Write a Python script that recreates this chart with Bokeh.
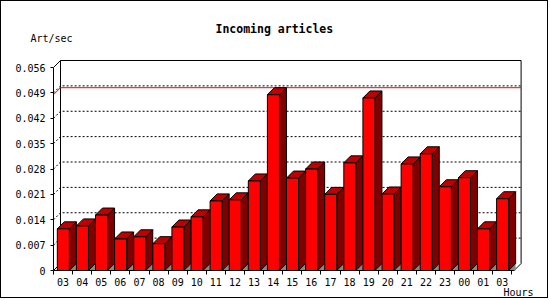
import numpy as np
from bokeh.plotting import figure
from bokeh.models import Range1d, FixedTicker, Title
from bokeh.embed import file_html
from bokeh.resources import INLINE

# ---- data ----
HOURS = ["03", "04", "05", "06", "07", "08", "09", "10", "11", "12", "13", "14",
         "15", "16", "17", "18", "19", "20", "21", "22", "23", "00", "01", "03"]
ART_PER_SEC = [0.0115, 0.0123, 0.0153, 0.0087, 0.0093, 0.0074, 0.0120, 0.0148,
               0.0192, 0.0195, 0.0247, 0.0485, 0.0255, 0.0280, 0.0210, 0.0297,
               0.0476, 0.0211, 0.0294, 0.0322, 0.0231, 0.0256, 0.0115, 0.0198]
Y_TICKS = [0, 0.007, 0.014, 0.021, 0.028, 0.035, 0.042, 0.049, 0.056]
Y_TICK_LABELS = ["0", "0.007", "0.014", "0.021", "0.028", "0.035", "0.042", "0.049", "0.056"]
TITLE = "Incoming articles"
Y_LABEL = "Art/sec"
X_LABEL = "Hours"

# ---- layout constants ----
W, H = 548, 298
BL, BR, BT, BB = 52, 26, 58, 29
SLOT_PX = 19.1
PX_PER_UNIT = 203 / 0.056
DEPTH_PX = 7
frame_w = W - BL - BR
frame_h = H - BT - BB
x_end = frame_w / SLOT_PX
y_end = frame_h / PX_PER_UNIT
dx = DEPTH_PX / SLOT_PX
dy = DEPTH_PX / PX_PER_UNIT
n = len(HOURS)
front_right = n + 2.2 / SLOT_PX
ymax_tick = Y_TICKS[-1]
FONT = "DejaVu Sans Mono"

p = figure(width=W, height=H, output_backend="svg", toolbar_location=None,
           x_range=Range1d(0, x_end), y_range=Range1d(0, y_end),
           min_border_left=BL, min_border_right=BR, min_border_top=BT,
           min_border_bottom=BB)
p.styles = {"border": "1px solid black"}
p.outline_line_color = None
p.xgrid.visible = False
p.ygrid.visible = False
p.background_fill_color = "white"
p.border_fill_color = "white"

# titles / labels
p.title.text = TITLE
p.title.align = "left"
p.title.offset = 162
p.title.vertical_align = "bottom"
p.title.text_font = FONT
p.title.text_font_style = "bold"
p.title.text_font_size = "11.5px"
p.title.text_color = "black"
p.title.standoff = -34

p.add_layout(Title(text=Y_LABEL, align="left", offset=-23, standoff=28, vertical_align="top",
                   text_font=FONT, text_font_size="10px", text_font_style="normal",
                   text_color="black"), "above")
p.add_layout(Title(text=X_LABEL, align="right", offset=-10, standoff=-8, vertical_align="bottom",
                   text_font=FONT, text_font_size="10px", text_font_style="normal",
                   text_color="black"), "below")

# axes
xa = p.xaxis[0]
centers = [i + 0.5 for i in range(n)]
xa.ticker = FixedTicker(ticks=centers, minor_ticks=list(range(n + 1)))
xa.major_label_overrides = {c: h for c, h in zip(centers, HOURS)}
xa.bounds = (0, front_right)
xa.major_tick_line_color = None
xa.major_tick_out = 0
xa.major_tick_in = 0
xa.minor_tick_out = 4
xa.minor_tick_in = 0
xa.minor_tick_line_color = "black"
xa.major_label_standoff = 3
xa.major_label_text_font = FONT
xa.major_label_text_font_size = "10px"
xa.major_label_text_color = "black"
xa.axis_line_color = "black"

ya = p.yaxis[0]
ya.ticker = FixedTicker(ticks=Y_TICKS, minor_ticks=[])
ya.major_label_overrides = {t: l for t, l in zip(Y_TICKS, Y_TICK_LABELS)}
ya.bounds = (0, ymax_tick)
ya.major_tick_out = 3
ya.major_tick_in = 0
ya.minor_tick_line_color = None
ya.major_label_standoff = 5
ya.major_label_text_font = FONT
ya.major_label_text_font_size = "10px"
ya.major_label_text_color = "black"
ya.axis_line_color = "black"

# grid lines on back wall (with diagonal from front)
for t in Y_TICKS[1:-1]:
    p.line([0, dx, front_right + dx], [t, t + dy, t + dy], line_color="black",
           line_width=1, line_dash="2 2")

# back wall frame
p.line([0, dx, front_right + dx, front_right + dx, front_right],
       [ymax_tick, ymax_tick + dy, ymax_tick + dy, dy, 0], line_color="black", line_width=1)
p.line([0, dx, dx], [0, dy, ymax_tick + dy], line_color="black", line_width=1)

# max line
vmax = max(ART_PER_SEC)
p.line([0, dx, front_right + dx], [vmax, vmax + dy, vmax + dy], line_color="red", line_width=1)

# bars
vals = np.array(ART_PER_SEC)
xl = np.arange(n) + 0.2
xr = xl + 0.63

shadow_xs = [[a, a + dx, a + dx] for a in xr]
shadow_ys = [[0, dy, 0] for _ in xr]
p.patches(shadow_xs, shadow_ys, fill_color="#888888", line_color=None)

for i in range(n):
    a, b, v = xl[i], xr[i], vals[i]
    p.patch([b, b + dx, b + dx, b], [0, dy, v + dy, v], fill_color="#800000",
            line_color="black", line_width=1)
    p.patch([a, b, b + dx, a + dx], [v, v, v + dy, v + dy], fill_color="#C00000",
            line_color="black", line_width=1)
    p.quad(left=[a], right=[b], bottom=[0], top=[v], fill_color="#FF0000",
           line_color="black", line_width=1)

open("out.html", "w").write(file_html(p, INLINE))
